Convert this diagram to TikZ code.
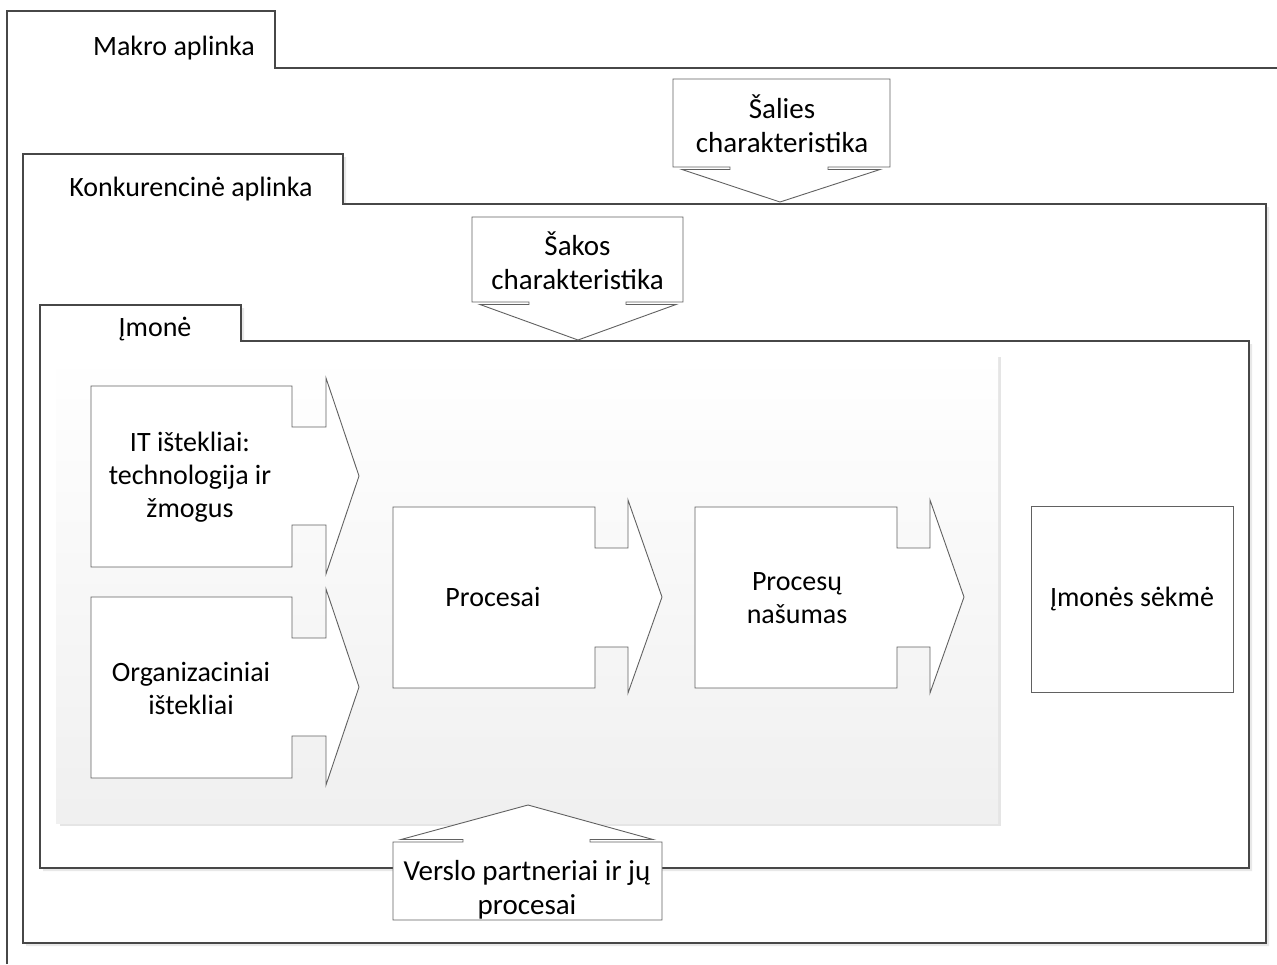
\documentclass[tikz,border=0pt]{standalone}
\usepackage{fontspec}
\setmainfont{Carlito}
\begin{document}
\begin{tikzpicture}[x=1pt,y=-1pt,
  frame/.style={draw=black!72, line width=1.1pt, fill=white, line join=miter},
  fshadow/.style={fill=black!9, draw=none},
  shapebox/.style={draw=black!62, line width=0.9pt, fill=white, line join=miter},
  lbl/.style={font=\fontsize{28}{33}\selectfont, align=center, text=black, inner sep=0pt},
  clbl/.style={font=\fontsize{29}{34}\selectfont, align=center, text=black, inner sep=0pt}]
\useasboundingbox (0,0) rectangle (1277,964);
\fill[white] (0,0) rectangle (1277,964);

% Makro aplinka frame
\draw[draw=black!72, line width=1.1pt] (7,964) -- (7,11) -- (275,11) -- (275,68) -- (1277,68);
\node[lbl, anchor=base] (makro) at (174,55) {Makro aplinka};

% Konkurencine aplinka frame
\fill[fshadow] (26,157) -- (346,157) -- (346,207) -- (1269,207) -- (1269,946) -- (26,946) -- cycle;
\draw[frame] (23,943) -- (23,154) -- (343,154) -- (343,204) -- (1266,204) -- (1266,943) -- cycle;
\node[lbl, anchor=base] (konk) at (191,196) {Konkurencinė aplinka};

% Imone frame
\fill[fshadow] (43,308) -- (244,308) -- (244,344) -- (1252,344) -- (1252,871) -- (43,871) -- cycle;
\draw[frame] (40,868) -- (40,305) -- (241,305) -- (241,341) -- (1249,341) -- (1249,868) -- cycle;
\node[lbl, anchor=base] (imone) at (155,336) {Įmonė};

% grey panel
\fill[black!10] (60,357) rectangle (1001,826);
\shade[top color=white, bottom color=black!6] (56,353) rectangle (998,823);

% arrows
\draw[shapebox] (91,386) -- (292,386) -- (292,427) -- (326,427) -- (326,378) -- (359,476)
  -- (326,574) -- (326,525) -- (292,525) -- (292,567) -- (91,567) -- cycle;
\node[lbl] (it) at (190,477) {IT ištekliai:\\technologija ir\\žmogus};

\draw[shapebox] (91,597) -- (292,597) -- (292,638) -- (326,638) -- (326,589) -- (359,687)
  -- (326,785) -- (326,736) -- (292,736) -- (292,778) -- (91,778) -- cycle;
\node[lbl] (org) at (191,688) {Organizaciniai\\ištekliai};

\draw[shapebox] (393,507) -- (595,507) -- (595,548) -- (628,548) -- (628,500) -- (662,597)
  -- (628,693) -- (628,647) -- (595,647) -- (595,688) -- (393,688) -- cycle;
\node[lbl] (proc) at (493,597) {Procesai};

\draw[shapebox] (695,507) -- (897,507) -- (897,548) -- (930,548) -- (930,500) -- (964,597)
  -- (930,693) -- (930,647) -- (897,647) -- (897,688) -- (695,688) -- cycle;
\node[lbl] (nas) at (797,598) {Procesų\\našumas};

\node[shapebox, lbl, minimum width=202pt, minimum height=186pt] (sekme) at (1132,599) {Įmonės sėkmė};

% callouts
\draw[shapebox] (673,79) -- (890,79) -- (890,167) -- (828,167) -- (828,169.5) -- (880,169.5)
  -- (780,202) -- (682,169.5) -- (730,169.5) -- (730,167) -- (673,167) -- cycle;
\node[clbl] (salies) at (782,124) {Šalies\\charakteristika};

\draw[shapebox] (472,217) -- (683,217) -- (683,302) -- (626,302) -- (626,304.5) -- (676,304.5)
  -- (578,340) -- (480,304.5) -- (529,304.5) -- (529,302) -- (472,302) -- cycle;
\node[clbl] (sakos) at (577.5,261) {Šakos\\charakteristika};

\draw[shapebox] (393,920) -- (662,920) -- (662,842) -- (590,842) -- (590,839.5) -- (653,839.5)
  -- (528,805) -- (401,839.5) -- (463,839.5) -- (463,842) -- (393,842) -- cycle;
\node[clbl] (verslo) at (527,890) {Verslo partneriai ir jų\\procesai};
\end{tikzpicture}
\end{document}
